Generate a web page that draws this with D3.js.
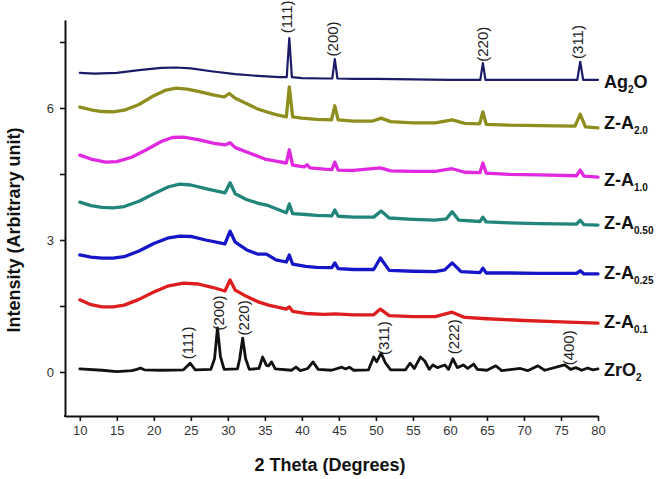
<!DOCTYPE html>
<html><head><meta charset="utf-8">
<script src="https://cdn.jsdelivr.net/npm/d3@7"></script>
<style>body{margin:0;background:#fff}svg{display:block}</style>
</head><body><svg id="c" width="660" height="479"></svg>
<script>
// ---- data (2θ in degrees, intensity offset in arbitrary units) ----
const xTicks = [10,15,20,25,30,35,40,45,50,55,60,65,70,75,80];
const yTicks = [0,1.5,3,4.5,6,7.5];
const yLabelled = [0,3,6];

const ag2o = [[10,6.80],[12,6.78],[15,6.80],[18,6.86],[21,6.91],[23,6.92],[25,6.90],[28,6.83],[31,6.77],[34,6.73],[37,6.70],[37.95,6.70],[38.3,7.59],[38.65,6.70],[40,6.68],[43,6.67],[44.1,6.67],[44.45,7.11],[44.8,6.67],[47,6.66],[50,6.66],[55,6.65],[60,6.64],[64.1,6.64],[64.45,7.02],[64.8,6.64],[68,6.64],[72,6.64],[77.2,6.64],[77.6,7.05],[78.0,6.64],[80,6.64]];
const za20 = [[10,6.02],[11.5,5.96],[13,5.92],[14.5,5.91],[16,5.95],[18,6.08],[20,6.28],[21.5,6.40],[23,6.45],[24.5,6.43],[26,6.38],[28,6.30],[29.5,6.25],[30.2,6.33],[31,6.22],[32.5,6.10],[34,5.98],[35.3,5.91],[36.5,5.85],[37.9,5.80],[38.3,6.48],[38.75,5.80],[40,5.77],[42,5.74],[44.0,5.73],[44.45,6.05],[44.9,5.73],[47,5.70],[49.5,5.70],[50.7,5.77],[52,5.69],[55,5.66],[58,5.66],[60.3,5.73],[62,5.65],[64.0,5.64],[64.45,5.91],[64.9,5.63],[68,5.61],[72,5.60],[76.9,5.59],[77.6,5.86],[78.3,5.57],[80,5.55]];
const za10 = [[10,4.93],[11.5,4.84],[13.5,4.77],[15,4.78],[17,4.88],[19,5.05],[21,5.24],[22.5,5.33],[24,5.34],[26,5.28],[28,5.20],[29.6,5.16],[30.3,5.21],[31,5.10],[33,4.97],[35,4.84],[36.5,4.79],[37.9,4.75],[38.3,5.05],[38.75,4.70],[40.3,4.66],[40.7,4.71],[41.1,4.64],[43,4.61],[44.05,4.60],[44.45,4.77],[44.9,4.59],[47,4.58],[50.6,4.64],[52,4.57],[55,4.56],[58,4.56],[60.3,4.62],[62,4.54],[64.05,4.53],[64.45,4.75],[64.9,4.52],[68,4.49],[72,4.48],[77.1,4.46],[77.6,4.59],[78.1,4.45],[80,4.43]];
const za050 = [[10,3.86],[11.5,3.78],[13,3.74],[14.5,3.73],[16,3.76],[18,3.88],[20,4.05],[22,4.21],[23.5,4.27],[25,4.25],[27,4.17],[29.6,4.07],[30.3,4.30],[31,4.05],[32.5,3.92],[34,3.84],[35.5,3.78],[37.9,3.62],[38.3,3.82],[38.75,3.60],[40.5,3.58],[42,3.56],[44.05,3.55],[44.45,3.68],[44.9,3.54],[47,3.52],[49.7,3.52],[50.7,3.66],[51.8,3.50],[55,3.47],[58,3.45],[59.5,3.48],[60.3,3.64],[61.2,3.45],[64.05,3.42],[64.45,3.52],[64.9,3.41],[68,3.39],[72,3.37],[77.1,3.36],[77.6,3.45],[78.1,3.35],[80,3.34]];
const za025 = [[10,2.66],[11.5,2.61],[13,2.59],[14.5,2.59],[16,2.62],[18,2.75],[20,2.92],[22,3.05],[23.5,3.09],[25,3.08],[27,3.00],[29.6,2.91],[30.3,3.20],[31,2.95],[32.5,2.78],[34,2.68],[35.2,2.68],[36.5,2.55],[37.9,2.50],[38.3,2.66],[38.75,2.45],[40.5,2.40],[42,2.38],[44.05,2.37],[44.45,2.48],[44.9,2.35],[47,2.33],[49.7,2.33],[50.6,2.59],[51.8,2.31],[55,2.29],[58,2.28],[59.3,2.32],[60.3,2.48],[61.5,2.28],[64.05,2.26],[64.45,2.36],[64.9,2.25],[68,2.25],[72,2.24],[77.1,2.24],[77.6,2.30],[78.1,2.23],[80,2.23]];
const za01 = [[10,1.64],[11.5,1.53],[13,1.48],[14.5,1.48],[16,1.52],[18,1.65],[20,1.82],[22,1.96],[24,2.02],[26,2.00],[28,1.92],[29.6,1.84],[30.3,2.09],[31,1.86],[32.5,1.72],[34,1.60],[35.5,1.52],[37.9,1.43],[38.3,1.48],[38.75,1.38],[40.5,1.33],[43,1.31],[44.5,1.32],[47,1.30],[49.7,1.30],[50.6,1.43],[51.8,1.28],[55,1.26],[58,1.26],[60.3,1.36],[62,1.24],[65,1.21],[70,1.17],[75,1.14],[80,1.11]];
const zro2 = [[10,0.07],[13,0.04],[15,0.01],[17,0.03],[17.7,0.06],[18.2,0.09],[18.7,0.05],[21,0.04],[24,0.05],[24.9,0.20],[25.6,0.05],[27.7,0.06],[28.2,0.30],[28.6,1.00],[29.0,0.35],[29.5,0.06],[31.3,0.07],[31.6,0.30],[32.0,0.77],[32.4,0.30],[32.9,0.06],[34.2,0.08],[34.7,0.34],[35.2,0.15],[35.5,0.14],[35.9,0.23],[36.4,0.07],[38.6,0.04],[39.2,0.11],[39.8,0.03],[40.8,0.08],[41.5,0.23],[42.2,0.06],[44,0.04],[45.4,0.11],[45.9,0.07],[46.4,0.11],[47,0.04],[49,0.05],[49.7,0.34],[50.1,0.23],[50.7,0.43],[51.3,0.20],[52,0.05],[54,0.05],[54.6,0.20],[55.2,0.08],[56.0,0.34],[56.6,0.25],[57.2,0.06],[57.7,0.16],[58.3,0.10],[59.3,0.16],[59.8,0.06],[60.4,0.30],[61.0,0.10],[61.8,0.16],[62.4,0.08],[63.2,0.18],[63.7,0.06],[65,0.04],[66.2,0.14],[67,0.03],[69.5,0.08],[70.5,0.03],[71.9,0.14],[72.8,0.04],[75.5,0.16],[76.3,0.06],[77,0.10],[77.8,0.04],[78.6,0.09],[79.3,0.05],[80,0.07]];

const seriesData = [ag2o, za20, za10, za050, za025, za01, zro2];
const seriesName = ["Ag", "Z-A", "Z-A", "Z-A", "Z-A", "Z-A", "ZrO"];
const seriesSub  = ["2", "2.0", "1.0", "0.50", "0.25", "0.1", "2"];
const seriesTail = ["O", "", "", "", "", "", ""];
const seriesColor = ["#1b1b68", "#8e8e1e", "#e028e0", "#22857a", "#1616c8", "#de1e1e", "#111111"];
const seriesWidth = [2.2, 3.3, 3.3, 3.3, 3.3, 3.3, 2.8];
const labelY = [6.59, 5.66, 4.36, 3.39, 2.25, 1.14, 0.05];

const ag2oPeakText = ["(111)", "(200)", "(220)", "(311)"];
const ag2oPeakX = [37.95, 44.2, 64.45, 77.3];
const ag2oPeakY = [8.07, 7.57, 7.45, 7.5];
const zro2PeakText = ["(111)", "(200)", "(220)", "(311)", "(222)", "(400)"];
const zro2PeakX = [24.6, 28.8, 32.2, 51.1, 60.5, 76.1];
const zro2PeakY = [0.66, 1.34, 1.23, 0.77, 0.80, 0.55];

// ---- drawing ----
const svg = d3.select("#c");
const x = d3.scaleLinear().domain([8, 80]).range([65, 598]);
const y = d3.scaleLinear().domain([-1, 8]).range([416, 20]);
const font = "Arial, 'Liberation Sans', sans-serif";

const xa = svg.append("g").attr("transform", `translate(0,${y(-1)})`)
  .call(d3.axisBottom(x).tickValues(xTicks).tickSize(5).tickSizeOuter(0).tickPadding(5));
const ya = svg.append("g").attr("transform", `translate(${x(8)},0)`)
  .call(d3.axisLeft(y).tickValues(yTicks).tickSize(5).tickSizeOuter(0).tickPadding(6)
    .tickFormat(d => yLabelled.includes(d) ? d3.format("d")(d) : ""));
[xa, ya].forEach(a => {
  a.select(".domain").attr("stroke", "#111").attr("stroke-width", 2);
  a.selectAll(".tick line").attr("stroke", "#111").attr("stroke-width", 1.6);
  a.selectAll(".tick text").attr("fill", "#333").style("font-family", font).style("font-size", "13px");
});
svg.append("line").attr("x1", x(8) - 1).attr("x2", x(8) + 1).attr("y1", y(-1)).attr("y2", y(-1))
  .attr("stroke", "#111").attr("stroke-width", 2);

const line = d3.line().x(d => x(d[0])).y(d => y(d[1]));
seriesData.forEach((s, i) => {
  svg.append("path").datum(s).attr("d", line).attr("fill", "none")
    .attr("stroke", seriesColor[i]).attr("stroke-width", seriesWidth[i])
    .attr("stroke-linejoin", "round").attr("stroke-linecap", "round");
  const t = svg.append("text").attr("x", x(80) + 6).attr("y", y(labelY[i]) + 6)
    .style("font-family", font).style("font-weight", "bold").style("font-size", "18px").attr("fill", "#111");
  t.append("tspan").text(seriesName[i]);
  t.append("tspan").attr("dy", 5).style("font-size", "10px").text(seriesSub[i]);
  if (seriesTail[i]) t.append("tspan").attr("dy", -5).text(seriesTail[i]);
});

function peakLabels(texts, xs, ys) {
  texts.forEach((s, i) => {
    svg.append("text")
      .attr("transform", `translate(${x(xs[i]) + 5},${y(ys[i])}) rotate(-90)`)
      .attr("text-anchor", "middle")
      .style("font-family", font).style("font-size", "15px").attr("fill", "#222")
      .text(s);
  });
}
peakLabels(ag2oPeakText, ag2oPeakX, ag2oPeakY);
peakLabels(zro2PeakText, zro2PeakX, zro2PeakY);

svg.append("text").attr("x", 330).attr("y", 471).attr("text-anchor", "middle")
  .style("font-family", font).style("font-weight", "bold").style("font-size", "18px").attr("fill", "#111")
  .text("2 Theta (Degrees)");
svg.append("text").attr("transform", "translate(20,230) rotate(-90)").attr("text-anchor", "middle")
  .style("font-family", font).style("font-weight", "bold").style("font-size", "18px").attr("fill", "#111")
  .text("Intensity (Arbitrary unit)");
</script></body></html>
